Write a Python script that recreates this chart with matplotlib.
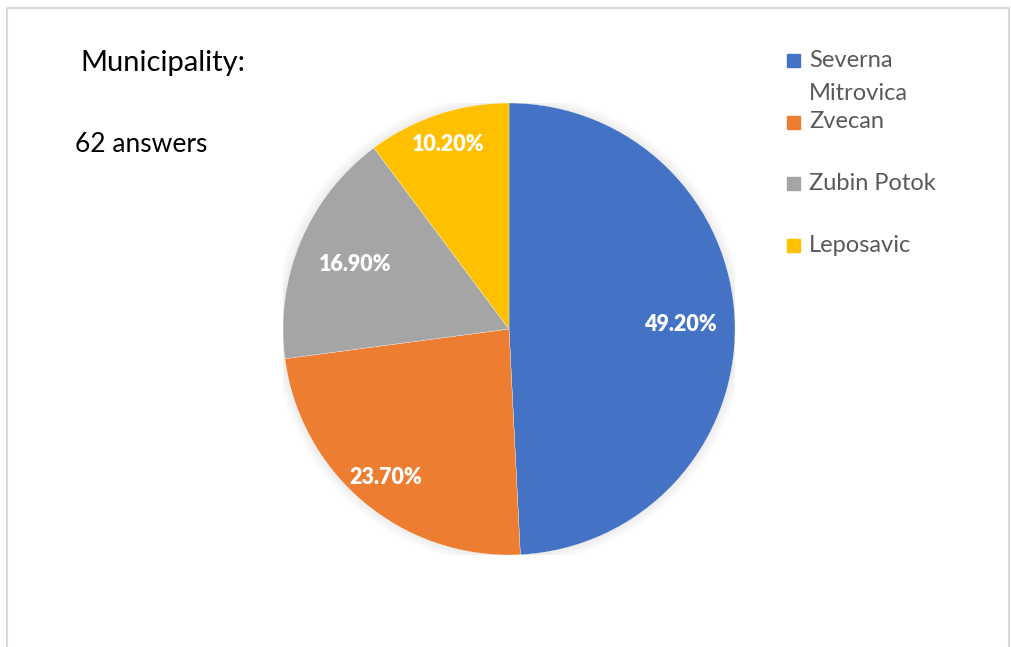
#!/usr/bin/env python3
# municipality_pie.py

import matplotlib.pyplot as plt
from matplotlib.patches import Rectangle, Circle
from matplotlib.lines import Line2D
import numpy as np

municipalities = ["Severna\nMitrovica", "Zvecan", "Zubin Potok", "Leposavic"]
shares = [49.2, 23.7, 16.9, 10.2]
colors = ['#4472C4', '#ED7D31', '#A5A5A5', '#FFC000']
answers = 62

W, H = 1011, 647
FONT = ['Lato', 'DejaVu Sans']


def px(x, y):
    # pixel position measured from the top-left corner -> figure fraction
    return x / W, 1 - y / H


def plot(fig):
    cx, cy, r = 509, 329, 226
    ax = fig.add_axes([(cx - r) / W, 1 - (cy + r) / H, 2 * r / W, 2 * r / H])

    # faint glow behind the pie
    for k in range(10):
        ax.add_patch(Circle((0.0, 0.0), 1.0 + 0.005 * k, color='black',
                            alpha=0.008, lw=0, zorder=0))

    wedges, _, autotexts = ax.pie(
        shares, colors=colors, startangle=90, counterclock=False,
        autopct='%.2f%%', pctdistance=0.8,
        wedgeprops=dict(edgecolor='white', linewidth=0.2),
        textprops=dict(color='white', fontsize=15.5, fontweight='heavy',
                       family=FONT))

    # pull each percentage label to its own radius
    radii = [0.76, 0.855, 0.74, 0.86]
    for w, t, rad in zip(wedges, autotexts, radii):
        mid = np.deg2rad((w.theta1 + w.theta2) / 2)
        t.set_position((rad * np.cos(mid), rad * np.sin(mid)))

    ax.set_xlim(-1, 1)
    ax.set_ylim(-1, 1)
    ax.set_aspect('equal')
    ax.axis('off')

    # titles
    fig.text(*px(80, 63), "Municipality:", fontsize=21, family=FONT,
             color='black', va='center', ha='left')
    fig.text(*px(75, 145), f"{answers} answers", fontsize=19, family=FONT,
             color='black', va='center', ha='left')

    # legend: marker row and text centre for each entry
    markers = [60, 122, 183, 245]
    text_rows = [77, 122, 183, 245]
    for label, color, ym, yt in zip(municipalities, colors, markers,
                                    text_rows):
        x0, y0 = px(787, ym + 7)
        fig.add_artist(Rectangle((x0, y0), 13 / W, 13 / H, color=color,
                                 transform=fig.transFigure))
        fig.text(*px(809, yt), label, fontsize=17, family=FONT,
                 color='#595959', va='center', ha='left', linespacing=1.65)

    # frame around the chart area
    frame = Line2D([7 / W, 7 / W, 1009 / W, 1009 / W],
                   [0, 1 - 8 / H, 1 - 8 / H, 0],
                   color='#d9d9d9', lw=1.5, transform=fig.transFigure)
    fig.add_artist(frame)


def main():
    fig = plt.figure(figsize=(W / 100, H / 100), dpi=100)
    fig.patch.set_facecolor('white')
    plot(fig)
    fig.savefig("out.png", dpi=100)


if __name__ == "__main__":
    main()
